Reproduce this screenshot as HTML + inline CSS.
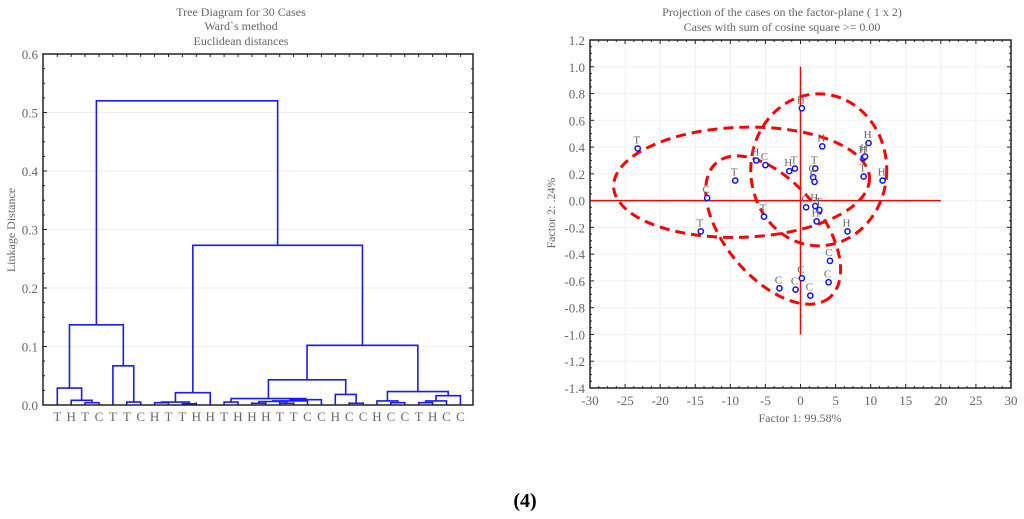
<!DOCTYPE html>
<html><head><meta charset="utf-8">
<style>
html,body{margin:0;padding:0;background:#fff;}
svg{display:block;font-family:"Liberation Serif",serif;}
</style></head>
<body>
<svg id="s" width="1024" height="519" viewBox="0 0 1024 519">
<text x="525" y="507" text-anchor="middle" font-size="20" font-weight="bold" fill="#000">(4)</text>
</svg>
<script>
// ---------- Dendrogram data ----------
const leafLabels = ["T","H","T","C","T","T","C","H","T","T","H","H","T","H","H","H","T","T","C","C","H","C","C","H","C","C","T","H","C","C"];
// merges: [childA, childB, height]; leaves 0..29, clusters 30+ in order
const merges = [
 [2,3,0.004],[1,30,0.008],[0,31,0.029],[5,6,0.005],[4,33,0.067],[32,34,0.137],
 [7,8,0.004],[9,10,0.002],[36,37,0.005],[38,11,0.021],
 [12,13,0.005],[14,15,0.003],[16,17,0.003],[41,42,0.006],[43,18,0.007],[44,19,0.009],[40,45,0.011],
 [21,22,0.003],[20,47,0.018],[46,48,0.043],
 [24,25,0.004],[23,50,0.007],[26,27,0.004],[52,28,0.007],[53,29,0.016],[51,54,0.023],
 [49,55,0.102],[39,56,0.273],[35,57,0.52]
];
const dYTicks = ["0.0","0.1","0.2","0.3","0.4","0.5","0.6"];
// ---------- Scatter data ----------
const ptLabels = ["T","C","T","T","H","C","T","H","T","H","H","T","C","C","C","H","T","H","H","H","H","H","T","H","C","C","C","C","C","C"];
const ptX = [-23.2,-13.3,-14.2,-9.3,-6.3,-5.0,-5.2,-1.6,-0.8,0.2,3.1,2.1,1.8,2.0,0.8,2.1,2.7,2.3,6.7,9.7,9.0,9.2,9.0,11.7,4.2,4.0,0.2,-3.0,-0.7,1.4];
const ptY = [0.39,0.02,-0.23,0.15,0.30,0.265,-0.12,0.22,0.24,0.69,0.405,0.24,0.175,0.14,-0.05,-0.04,-0.07,-0.155,-0.23,0.43,0.32,0.33,0.18,0.15,-0.45,-0.61,-0.58,-0.655,-0.665,-0.71];
const sxTicks = [-30,-25,-20,-15,-10,-5,0,5,10,15,20,25,30];
const syTicks = [1.2,1.0,0.8,0.6,0.4,0.2,0.0,-0.2,-0.4,-0.6,-0.8,-1.0,-1.2,-1.4];
// ellipses in data coords: cx, cy, rx(units), ry(units), rotation deg
const ellCx=[-8.4,2.6,-3.9], ellCy=[0.137,0.23,-0.22];

const NS="http://www.w3.org/2000/svg", svg=document.getElementById('s');
function mk(t,a,p){const e=document.createElementNS(NS,t);for(const k in a)e.setAttribute(k,a[k]);(p||svg).appendChild(e);return e;}
const G="#666";

// ===== Dendrogram =====
const L={x0:43,x1:473,y0:54,y1:405};
const dy=v=>L.y1-(v/0.6)*(L.y1-L.y0);
const lx=i=>57.3+i*13.9;
const g1=mk('g',{});  
dYTicks.forEach(t=>{const y=dy(+t);
 if(+t>0){const gl=mk('line',{x1:L.x0,x2:L.x1,y1:y,y2:y,stroke:'#eee','stroke-width':1},g1);}
 const tx=mk('text',{x:L.x0-5,y:y+5,'text-anchor':'end','font-size':13,fill:G},g1);tx.textContent=t;
 
});
for(let v=0;v<=0.6001;v+=0.025){const y=dy(v),big=Math.abs(v*10-Math.round(v*10))<1e-6;
 mk('line',{x1:L.x0,x2:L.x0+(big?4:2),y1:y,y2:y,stroke:'#222'},g1);mk('line',{x1:L.x1,x2:L.x1-(big?4:2),y1:y,y2:y,stroke:'#222'},g1);}
leafLabels.forEach((l,i)=>{const x=lx(i);
 mk('line',{x1:x,x2:x,y1:L.y0,y2:L.y0+3,stroke:'#222'},g1);mk('line',{x1:x,x2:x,y1:L.y1,y2:L.y1-3,stroke:'#222'},g1);
 const t=mk('text',{x:x,y:L.y1+16,'text-anchor':'middle','font-size':13,fill:G},g1);t.textContent=l;
 });
const pos=[],hgt=[];
leafLabels.forEach((l,i)=>{pos.push(lx(i));hgt.push(0);});
merges.forEach(m=>{const a=m[0],b=m[1],h=m[2];
 const xa=pos[a],xb=pos[b],y=dy(h);
 const p=mk('path',{d:`M${xa},${dy(hgt[a])}V${y}H${xb}V${dy(hgt[b])}`,fill:'none',stroke:'#1a1aff','stroke-width':1.6},g1);
 
 pos.push((xa+xb)/2);hgt.push(h);});
const f1=mk('rect',{x:L.x0,y:L.y0,width:L.x1-L.x0,height:L.y1-L.y0,fill:'none',stroke:'#222','stroke-width':1.5},g1);

[["Tree Diagram for 30 Cases",16],["Ward`s method",30],["Euclidean distances",45]].forEach(([s,y])=>{
 const t=mk('text',{x:241,y:y,'text-anchor':'middle','font-size':12,fill:G},g1);t.textContent=s;
 });
const yt=mk('text',{x:0,y:0,'text-anchor':'middle','font-size':12,fill:G,transform:'translate(15,230) rotate(-90)'},g1);
yt.textContent="Linkage Distance";

// ===== Scatter =====
const R={x0:590,x1:1011,y0:40,y1:388};
const sx=v=>R.x0+(v+30)/60*(R.x1-R.x0);
const sy=v=>R.y0+(1.2-v)/2.6*(R.y1-R.y0);
const g2=mk('g',{});
sxTicks.forEach(v=>{const x=sx(v);
 if(v>-30&&v<30){mk('line',{x1:x,x2:x,y1:R.y0,y2:R.y1,stroke:'#f0f0f0'},g2);}
 const t=mk('text',{x:x,y:R.y1+17,'text-anchor':'middle','font-size':13,fill:G},g2);t.textContent=v;
 });
syTicks.forEach(v=>{const y=sy(v);
 if(v<1.2&&v>-1.4)mk('line',{x1:R.x0,x2:R.x1,y1:y,y2:y,stroke:'#f0f0f0'},g2);
 const t=mk('text',{x:R.x0-5,y:y+5,'text-anchor':'end','font-size':13,fill:G},g2);t.textContent=v.toFixed(1);
 });
for(let v=-30;v<=30;v+=1.25){const x=sx(v),big=Math.abs(v%5)<1e-6;
 mk('line',{x1:x,x2:x,y1:R.y1,y2:R.y1-(big?4:2),stroke:'#222'},g2);mk('line',{x1:x,x2:x,y1:R.y0,y2:R.y0+(big?4:2),stroke:'#222'},g2);}
for(let v=-1.4;v<=1.2001;v+=0.05){const y=sy(v),big=Math.abs(v*5-Math.round(v*5))<1e-6;
 mk('line',{x1:R.x0,x2:R.x0+(big?4:2),y1:y,y2:y,stroke:'#222'},g2);mk('line',{x1:R.x1,x2:R.x1-(big?4:2),y1:y,y2:y,stroke:'#222'},g2);}
const ah=mk('line',{x1:sx(-30),x2:sx(20),y1:sy(0),y2:sy(0),stroke:'#f00','stroke-width':1.5},g2);

const av=mk('line',{x1:sx(0),x2:sx(0),y1:sy(1.0),y2:sy(-1.0),stroke:'#f00','stroke-width':1.5},g2);

const ellR=[[128,55,-2],[68,76,0],[88,48,50]];
ellCx.forEach((cx,i)=>{const X=sx(cx),Y=sy(ellCy[i]),r=ellR[i];
 const e=mk('ellipse',{cx:X,cy:Y,rx:r[0],ry:r[1],transform:`rotate(${r[2]} ${X} ${Y})`,fill:'none',stroke:'#f00','stroke-width':3,'stroke-dasharray':'10 6'},g2);
 });
ptX.forEach((v,i)=>{const x=sx(v),y=sy(ptY[i]);
 const c=mk('circle',{cx:x,cy:y,r:2.6,fill:'#fff',stroke:'#1010ff','stroke-width':1.5},g2);
 
 const t=mk('text',{x:x-1,y:y-5,'text-anchor':'middle','font-size':11,fill:G},g2);t.textContent=ptLabels[i];
 });
const f2=mk('rect',{x:R.x0,y:R.y0,width:R.x1-R.x0,height:R.y1-R.y0,fill:'none',stroke:'#222','stroke-width':1.5},g2);

[["Projection of the cases on the factor-plane (  1 x   2)",16],["Cases with sum of cosine square >=  0.00",31]].forEach(([s,y])=>{
 const t=mk('text',{x:782,y:y,'text-anchor':'middle','font-size':12,fill:G,'xml:space':'preserve'},g2);t.textContent=s;
 });
const xt=mk('text',{x:800,y:422,'text-anchor':'middle','font-size':12,fill:G},g2);xt.textContent="Factor 1: 99.58%";

const yt2=mk('text',{x:0,y:0,'text-anchor':'middle','font-size':12,fill:G,transform:'translate(555,213) rotate(-90)'},g2);
yt2.textContent="Factor 2:   .24%";
</script>
</body></html>
